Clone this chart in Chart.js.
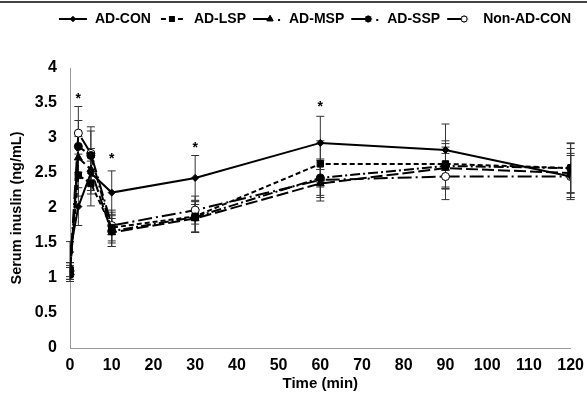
<!DOCTYPE html>
<html>
<head>
<meta charset="utf-8">
<script src="https://cdn.jsdelivr.net/npm/chart.js@4"></script>
<style>
  html, body { margin: 0; padding: 0; background: #fff; }
  #wrap { position: relative; width: 587px; height: 395px; }
  #topline { position: absolute; left: 0; top: 1px; width: 587px; height: 0; border-top: 2px solid #444; }
</style>
</head>
<body>
<div id="wrap">
  <div id="topline"></div>
  <canvas id="myChart" width="587" height="395"></canvas>
</div>
<script>
// time points (min)
const times = [0, 2, 5, 10, 30, 60, 90, 120];

// mean serum insulin (ng/mL)
const adCon    = [1.37, 2.02, 2.50, 2.22, 2.43, 2.93, 2.83, 2.45];
const adLsp    = [1.12, 2.47, 2.35, 1.72, 1.88, 2.63, 2.63, 2.57];
const adMsp    = [1.08, 2.72, 2.55, 1.65, 1.85, 2.35, 2.57, 2.50];
const adSsp    = [1.05, 2.88, 2.75, 1.67, 1.87, 2.43, 2.60, 2.57];
const nonAdCon = [1.10, 3.07, 2.78, 1.75, 1.97, 2.40, 2.45, 2.45];

// error bars (+/-)
const adConErr    = [0.15, 0.27, 0.30, 0.31, 0.32, 0.38, 0.37, 0.30];
const adLspErr    = [0.10, 0.30, 0.32, 0.22, 0.22, 0.33, 0.33, 0.36];
const adMspErr    = [0.10, 0.30, 0.30, 0.20, 0.20, 0.20, 0.30, 0.35];
const adSspErr    = [0.10, 0.37, 0.35, 0.22, 0.22, 0.25, 0.32, 0.35];
const nonAdConErr = [0.12, 0.38, 0.38, 0.22, 0.20, 0.30, 0.33, 0.33];

// significance marks
const starTimes  = [2, 10, 30, 60];
const starValues = [3.60, 2.74, 2.90, 3.49];

const seriesNames = ['AD-CON', 'AD-LSP', 'AD-MSP', 'AD-SSP', 'Non-AD-CON'];

const FONT = '"Liberation Sans", Arial, sans-serif';

function pts(vals){
    return times.map((t, i) => ({x: t, y: vals[i]}));
}

const styles = [
    {dash: [],             marker: 'rectRot',  r: 3.5, fill: '#000'},
    {dash: [5, 3],         marker: 'rect',     r: 4.5, fill: '#000'},
    {dash: [12, 4],        marker: 'triangle', r: 4.5, fill: '#000'},
    {dash: [10, 3, 2, 3],  marker: 'circle',   r: 4,   fill: '#000'},
    {dash: [14, 4, 2, 4],  marker: 'circle',   r: 4,   fill: '#fff'}
];
const allVals = [adCon, adLsp, adMsp, adSsp, nonAdCon];
const allErrs = [adConErr, adLspErr, adMspErr, adSspErr, nonAdConErr];

// small legend pictures: line + marker (+ dot for the dash-dot ones)
function legendIcon(st, k){
    const c = document.createElement('canvas');
    c.width = 30; c.height = 12;
    const g = c.getContext('2d');
    g.strokeStyle = '#000';
    g.fillStyle = '#000';
    g.lineWidth = 2;
    g.beginPath();
    if (k === 0) { g.moveTo(1, 6); g.lineTo(29, 6); }
    else if (k === 1) { g.moveTo(4, 6); g.lineTo(9, 6); g.moveTo(21, 6); g.lineTo(26, 6); }
    else { g.moveTo(1, 6); g.lineTo(18, 6); }
    g.stroke();
    if (k === 2 || k === 3) { g.fillRect(26, 6, 2, 2); }
    g.lineWidth = 1;
    const cx = k >= 2 ? 18 : 15;
    Chart.helpers.drawPoint(g, {pointStyle: st.marker, radius: st.r - 1, borderWidth: 1}, cx, 6);
    g.fillStyle = st.fill;
    g.fill();
    g.stroke();
    return c;
}

const errorBars = {
    id: 'errorBars',
    beforeInit(chart){
        // extra room under the legend
        const fit = chart.legend.fit;
        chart.legend.fit = function(){
            fit.bind(chart.legend)();
            this.height += 32;
        };
    },
    beforeDatasetsDraw(chart){
        const ctx = chart.ctx;
        const xs = chart.scales.x, ys = chart.scales.y;
        ctx.save();
        ctx.strokeStyle = '#333';
        ctx.lineWidth = 1;
        allVals.forEach((vals, k) => {
            vals.forEach((v, i) => {
                const x = xs.getPixelForValue(times[i]);
                const yt = ys.getPixelForValue(v + allErrs[k][i]);
                const yb = ys.getPixelForValue(v - allErrs[k][i]);
                ctx.beginPath();
                ctx.moveTo(x, yt); ctx.lineTo(x, yb);
                ctx.moveTo(x - 4, yt); ctx.lineTo(x + 4, yt);
                ctx.moveTo(x - 4, yb); ctx.lineTo(x + 4, yb);
                ctx.stroke();
            });
        });
        ctx.restore();
    },
    afterDatasetsDraw(chart){
        const ctx = chart.ctx;
        const xs = chart.scales.x, ys = chart.scales.y;
        ctx.save();
        ctx.fillStyle = '#000';
        ctx.font = 'bold 14px ' + FONT;
        ctx.textAlign = 'center';
        ctx.textBaseline = 'middle';
        starTimes.forEach((t, i) => {
            ctx.fillText('*', xs.getPixelForValue(t), ys.getPixelForValue(starValues[i]) + 3);
        });
        ctx.restore();
    }
};

const data = {
    datasets: allVals.map((vals, k) => ({
        label: seriesNames[k],
        data: pts(vals),
        borderColor: '#000',
        borderWidth: 2,
        borderDash: styles[k].dash,
        pointStyle: styles[k].marker,
        pointRadius: styles[k].r,
        pointBackgroundColor: styles[k].fill,
        pointBorderColor: '#000',
        pointBorderWidth: 1,
        tension: 0
    }))
};

const icons = styles.map(legendIcon);

const config = {
    type: 'line',
    data: data,
    plugins: [errorBars],
    options: {
        animation: false,
        responsive: false,
        layout: { padding: {left: 8, right: 10, top: 6, bottom: 2} },
        plugins: {
            legend: {
                position: 'top',
                align: 'end',
                labels: {
                    usePointStyle: true,
                    pointStyleWidth: 30,
                    color: '#000',
                    padding: 6,
                    font: {family: FONT, size: 14, weight: 'bold'},
                    generateLabels(chart){
                        return seriesNames.map((n, k) => ({
                            text: n,
                            pointStyle: icons[k],
                            datasetIndex: k,
                            fontColor: '#000'
                        }));
                    }
                }
            },
            tooltip: { enabled: false }
        },
        scales: {
            x: {
                type: 'linear',
                min: 0, max: 120,
                afterFit(scale){ scale.height = 45; },
                ticks: {
                    stepSize: 10, color: '#000', padding: 3,
                    font: {family: FONT, size: 16, weight: 'bold'}
                },
                grid: { display: false, drawTicks: true, tickLength: 5, color: '#999' },
                border: { color: '#999' },
                title: {
                    display: true, text: 'Time (min)', color: '#000', padding: {top: 0, bottom: 0},
                    font: {family: FONT, size: 15, weight: 'bold'}
                }
            },
            y: {
                min: 0, max: 4,
                afterFit(scale){ scale.width = 62; },
                ticks: {
                    stepSize: 0.5, color: '#000', padding: 8,
                    font: {family: FONT, size: 16, weight: 'bold'},
                    callback: v => String(v)
                },
                grid: { display: false, drawTicks: true, tickLength: 5, color: '#999' },
                border: { color: '#999' },
                title: {
                    display: true, text: 'Serum inuslin (ng/mL)', color: '#000', padding: {top: 0, bottom: 2},
                    font: {family: FONT, size: 14.5, weight: 'bold'}
                }
            }
        }
    }
};

const myChart = new Chart(document.getElementById('myChart'), config);
</script>
</body>
</html>
